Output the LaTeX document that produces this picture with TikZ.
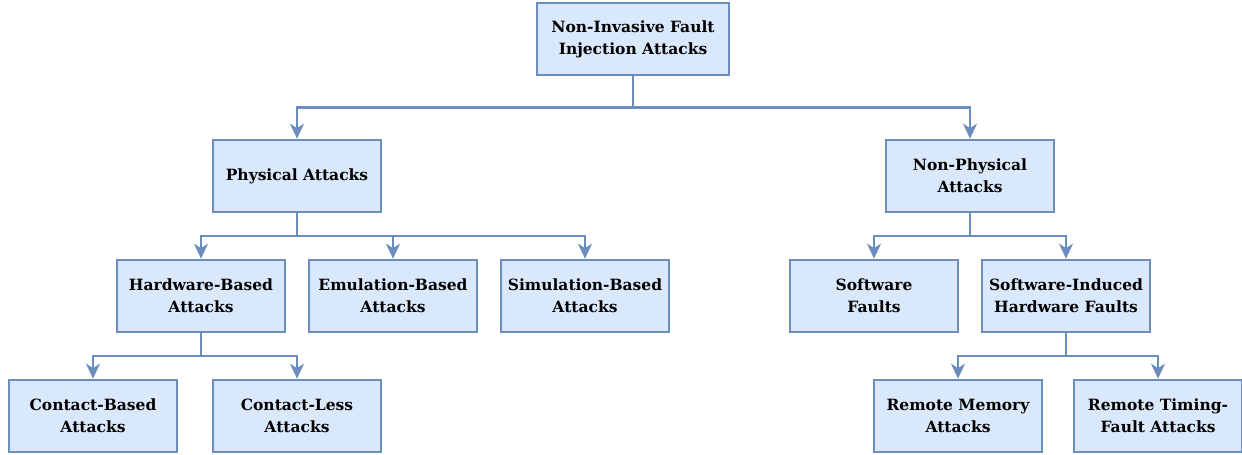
\documentclass[tikz,border=0pt]{standalone}
\usepackage{fontspec}
\setmainfont{DejaVu Serif}
\usetikzlibrary{arrows.meta, calc, positioning}

\definecolor{boxfill}{HTML}{DAE8FC}
\definecolor{boxline}{HTML}{6C8EBF}

\begin{document}
\begin{tikzpicture}[
            x = 1pt, y = -1pt,
            > = {Stealth[length=15pt, width=14pt, inset=4.5pt]}, % arrow head style
            node distance = 192pt, % distance between nodes
            line width = 2.6pt, % line style
            elbow/.style = {
                draw = boxline,
                to path = {(\tikztostart) |- ($(\tikztostart)!0.5!(\tikztotarget)$)
                    -| (\tikztotarget)}
            }
        ]

        \tikzstyle{every cat}=[
            draw = boxline,
            fill = boxfill,
            minimum width = 168pt,
            minimum height = 72pt,
            inner sep = 0pt,
            align = center,
            font = \fontsize{15.5}{22}\selectfont\bfseries
        ]

        \useasboundingbox (0,0) rectangle (1242,455);

        \node[every cat, minimum width = 192pt] (root) at (633,39) {Non-Invasive Fault\\Injection Attacks};

        \node[every cat] (phys) at (297,176) {Physical Attacks};
        \node[every cat] (nonphys) at (970,176) {Non-Physical\\Attacks};

        \node[every cat] (hw) at (201,296) {Hardware-Based\\Attacks};
        \node[every cat] (emu) [right of=hw] {Emulation-Based\\Attacks};
        \node[every cat] (sim) [right of=emu] {Simulation-Based\\Attacks};

        \node[every cat] (swf) at (874,296) {Software\\Faults};
        \node[every cat] (swhw) [right of=swf] {Software-Induced\\Hardware Faults};

        \node[every cat] (contact) at (93,416) {Contact-Based\\Attacks};
        \node[every cat] (noncontact) at (297,416) {Contact-Less\\Attacks};

        \node[every cat] (remmem) at (958,416) {Remote Memory\\Attacks};
        \node[every cat] (remtime) at (1158,416) {Remote Timing-\\Fault Attacks};

        \path (root.south) edge[elbow, ->] (phys.north);
        \path (root.south) edge[elbow, ->] (nonphys.north);
        \path (phys.south) edge[elbow, ->] (hw.north);
        \path (phys.south) edge[elbow, ->] (emu.north);
        \path (phys.south) edge[elbow, ->] (sim.north);
        \path (nonphys.south) edge[elbow, ->] (swf.north);
        \path (nonphys.south) edge[elbow, ->] (swhw.north);
        \path (hw.south) edge[elbow, ->] (contact.north);
        \path (hw.south) edge[elbow, ->] (noncontact.north);
        \path (swhw.south) edge[elbow, ->] (remmem.north);
        \path (swhw.south) edge[elbow, ->] (remtime.north);

  \end{tikzpicture}
\end{document}
